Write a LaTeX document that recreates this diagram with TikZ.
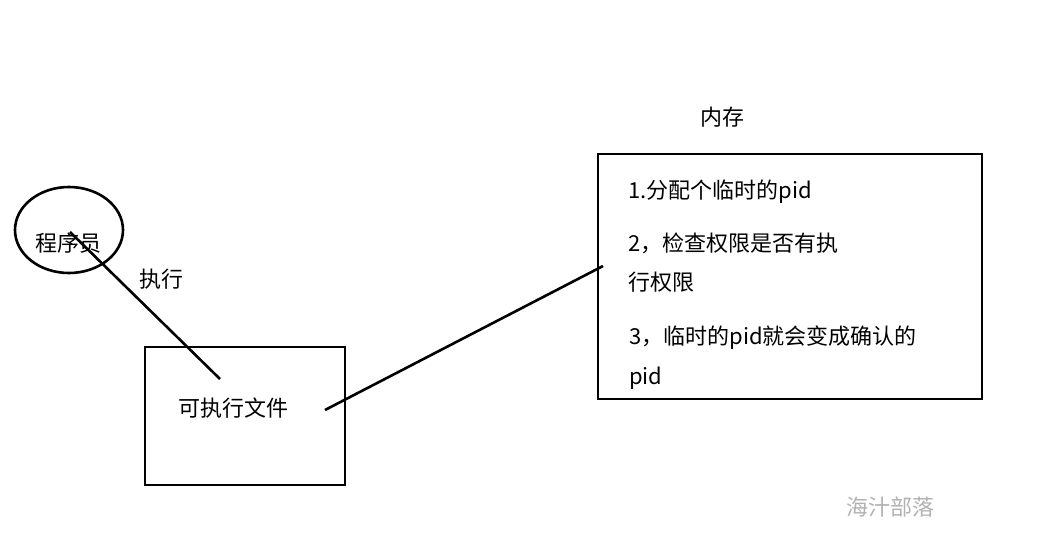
\documentclass[tikz,border=0pt]{standalone}
\usepackage{fontspec}
\newfontfamily\cjk{Noto Sans CJK SC}
\begin{document}
\begin{tikzpicture}[x=1pt,y=-1pt,
  box/.style={draw,line width=2.6pt},
  lbl/.style={font=\cjk\fontsize{22}{26}\selectfont,inner sep=0pt},
  item/.style={lbl,anchor=west},
  conn/.style={line width=2.6pt}]
\useasboundingbox[fill=white] (0,0) rectangle (1038,554);
% programmer ellipse
\draw[box] (69,230) ellipse [x radius=54, y radius=43];
\node[lbl] (prog) at (68,243) {程序员};
% executable box
\node[box,minimum width=200pt,minimum height=138pt,inner sep=0pt] (exe) at (245,416) {};
\node[lbl] (exetxt) at (233,408) {可执行文件};
\coordinate (e1) at (220,379);
\coordinate (p1) at (70,232);
\draw[conn] (e1) -- (p1);
\node[lbl] (exec) at (161,279) {执行};
% memory box
\node[box,minimum width=384pt,minimum height=245pt,inner sep=0pt] (mem) at (790,276.5) {};
\node[lbl] (memtitle) at (722,117) {内存};
\node[item] (l1) at (628,192) {1.分配个临时的pid};
\node[item] (l2) at (628,243) {2，检查权限是否有执};
\node[item] (l3) at (628,282) {行权限};
\node[item] (l4) at (629,338) {3，临时的pid就会变成确认的};
\node[item] (l5) at (629,378) {pid};
\coordinate (e2) at (325,410);
\coordinate (m1) at (603,266);
\draw[conn] (e2) -- (m1);
% watermark
\node[font=\cjk\fontsize{22}{26}\selectfont,text=black!30,inner sep=0pt] (wm) at (890,507) {海汁部落};
\end{tikzpicture}
\end{document}
